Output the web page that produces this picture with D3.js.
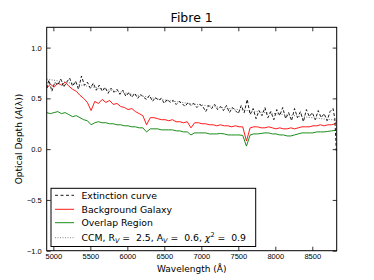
<!DOCTYPE html>
<meta charset="utf-8">
<style>
body { margin: 0; background: #fff; }
svg { font-family: "DejaVu Sans", sans-serif; }
.tick text { font-size: 7.5px; fill: #000; }
.tick line { stroke: #000; stroke-width: 0.8; }
.domain { display: none; }
</style>
<svg width="374" height="280"></svg>
<script src="https://d3js.org/d3.v7.min.js"></script>
<script>

// extinction curve (black dashed)
var waveExt = [4910,4940,4980,5020,5060,5100,5140,5180,5220,5260,5300,5340,5380,5420,5460,5500,5540,5580,5620,5660,
  5700,5740,5780,5820,5860,5900,5940,5980,6020,6060,6100,6140,6180,6220,6260,6300,6340,6380,6420,6460,
  6500,6540,6580,6620,6660,6700,6740,6780,6820,6860,6900,6940,6980,7020,7060,7100,7140,7180,7220,7260,
  7300,7340,7380,7420,7460,7500,7540,7580,7620,7660,7700,7740,7780,7820,7860,7900,7940,7980,8020,8060,
  8100,8140,8180,8220,8260,8300,8340,8380,8420,8460,8500,8540,8580,8620,8660,8700,8740,8780,8805,8825];
var extinction = [0.60,0.68,0.57,0.66,0.63,0.69,0.61,0.66,0.70,0.62,0.67,0.59,0.72,0.63,0.66,0.60,0.65,0.58,0.63,0.57,
  0.61,0.55,0.60,0.56,0.59,0.54,0.58,0.52,0.56,0.51,0.55,0.50,0.54,0.51,0.49,0.53,0.47,0.51,0.48,0.50,
  0.45,0.49,0.46,0.48,0.44,0.47,0.45,0.42,0.46,0.43,0.45,0.41,0.44,0.42,0.37,0.43,0.40,0.44,0.39,0.42,
  0.38,0.43,0.36,0.41,0.38,0.35,0.43,0.36,0.49,0.34,0.40,0.30,0.38,0.33,0.41,0.31,0.37,0.29,0.39,0.33,
  0.41,0.30,0.36,0.28,0.40,0.31,0.37,0.27,0.39,0.32,0.36,0.29,0.38,0.31,0.35,0.28,0.37,0.40,0.30,-0.02];

// background galaxy (red) and overlap region (green)
var waveSpec = [4910,4960,5010,5060,5110,5160,5210,5260,5310,5360,5410,5460,5510,5560,5610,5660,5710,5760,5810,5860,
  5910,5960,6010,6060,6110,6160,6210,6260,6310,6360,6410,6460,6510,6560,6610,6660,6710,6760,6810,6860,
  6910,6960,7010,7060,7110,7160,7210,7260,7310,7360,7410,7460,7510,7560,7610,7660,7710,7760,7810,7860,
  7910,7960,8010,8060,8110,8160,8210,8260,8310,8360,8410,8460,8510,8560,8610,8660,8710,8760,8810,8830];
var background = [0.60,0.64,0.61,0.65,0.63,0.66,0.62,0.59,0.57,0.53,0.50,0.46,0.38,0.47,0.45,0.49,0.46,0.48,0.44,0.45,
  0.42,0.41,0.39,0.40,0.37,0.35,0.33,0.24,0.31,0.31,0.30,0.29,0.29,0.28,0.29,0.27,0.27,0.26,0.27,0.21,
  0.26,0.26,0.25,0.25,0.24,0.24,0.23,0.24,0.23,0.23,0.22,0.23,0.22,0.22,0.08,0.21,0.22,0.22,0.21,0.21,
  0.22,0.21,0.20,0.21,0.20,0.20,0.21,0.20,0.21,0.22,0.22,0.22,0.23,0.23,0.24,0.23,0.24,0.24,0.25,0.28];
var overlap = [0.36,0.35,0.36,0.37,0.35,0.36,0.34,0.32,0.33,0.31,0.29,0.28,0.24,0.26,0.27,0.26,0.26,0.25,0.25,0.24,
  0.24,0.23,0.23,0.22,0.22,0.21,0.21,0.17,0.20,0.20,0.20,0.19,0.19,0.19,0.19,0.18,0.18,0.17,0.17,0.14,
  0.16,0.16,0.16,0.16,0.15,0.15,0.15,0.155,0.15,0.14,0.14,0.14,0.14,0.135,0.03,0.14,0.15,0.15,0.155,0.16,
  0.16,0.15,0.15,0.14,0.14,0.13,0.13,0.14,0.15,0.16,0.16,0.16,0.16,0.17,0.17,0.17,0.175,0.18,0.185,0.20];

// CCM fit (dotted)
var waveCCM = [4910,5200,5500,6000,6500,7000,7500,8000,8500,8830];
var ccm = [0.69,0.655,0.615,0.55,0.485,0.435,0.39,0.35,0.31,0.285];

var xTicks = [5000,5500,6000,6500,7000,7500,8000,8500];
var yTicks = [-1.0,-0.5,0.0,0.5,1.0];
var legendLabels = ["Extinction curve","Background Galaxy","Overlap Region"];

var svg = d3.select("svg");
var plotL = 46.7, plotR = 336.7, plotT = 27.3, plotB = 250.7;

var x = d3.scaleLinear().domain([4910, 8830]).range([plotL, plotR]);
var y = d3.scaleLinear().domain([-1.0, 1.2]).range([plotB, plotT]);

svg.append("clipPath").attr("id", "plot")
  .append("rect").attr("x", plotL).attr("y", plotT)
  .attr("width", plotR - plotL).attr("height", plotB - plotT);

var g = svg.append("g").attr("clip-path", "url(#plot)");

function series(wave, vals) {
  return wave.map(function(w, i) { return [w, vals[i]]; });
}
var line = d3.line().x(function(d) { return x(d[0]); }).y(function(d) { return y(d[1]); });

g.append("path").datum(series(waveCCM, ccm))
  .attr("d", line.curve(d3.curveMonotoneX)).attr("fill", "none")
  .attr("stroke", "#555").attr("stroke-width", 0.8).attr("stroke-dasharray", "1,1.5");
line.curve(d3.curveLinear);

g.append("path").datum(series(waveSpec, overlap))
  .attr("d", line).attr("fill", "none").attr("stroke", "#008000").attr("stroke-width", 0.9);
g.append("path").datum(series(waveSpec, background))
  .attr("d", line).attr("fill", "none").attr("stroke", "#ff0000").attr("stroke-width", 0.9);
g.append("path").datum(series(waveExt, extinction))
  .attr("d", line).attr("fill", "none").attr("stroke", "#000").attr("stroke-width", 0.9)
  .attr("stroke-dasharray", "3,2");

// axes with inward ticks on all four sides
svg.append("g").attr("transform", "translate(0," + plotB + ")")
  .call(d3.axisBottom(x).tickValues(xTicks).tickSize(-4).tickPadding(3).tickFormat(d3.format("d")));
svg.append("g").attr("transform", "translate(0," + plotT + ")")
  .call(d3.axisTop(x).tickValues(xTicks).tickSize(-4).tickFormat(""));
svg.append("g").attr("transform", "translate(" + plotL + ",0)")
  .call(d3.axisLeft(y).tickValues(yTicks).tickSize(-4).tickPadding(5)
    .tickFormat(function(d) { return d3.format(".1f")(d).replace("-", "\u2212"); }));
svg.append("g").attr("transform", "translate(" + plotR + ",0)")
  .call(d3.axisRight(y).tickValues(yTicks).tickSize(-4).tickFormat(""));

svg.append("rect").attr("x", plotL).attr("y", plotT)
  .attr("width", plotR - plotL).attr("height", plotB - plotT)
  .attr("fill", "none").attr("stroke", "#000").attr("stroke-width", 1);

svg.append("text").attr("x", (plotL + plotR) / 2).attr("y", 22)
  .attr("text-anchor", "middle").attr("font-size", 12.5).text("Fibre 1");

svg.append("text").attr("x", (plotL + plotR) / 2).attr("y", 271.5)
  .attr("text-anchor", "middle").attr("font-size", 9).text("Wavelength (\u00c5)");

var yl = svg.append("text").attr("transform", "translate(22," + ((plotT + plotB) / 2) + ") rotate(-90)")
  .attr("text-anchor", "middle").attr("font-size", 9);
yl.append("tspan").text("Optical Depth (");
yl.append("tspan").attr("font-style", "italic").text("A");
yl.append("tspan").text("(\u03bb))");

// legend
var lg = svg.append("g");
lg.append("rect").attr("x", 51).attr("y", 188.3).attr("width", 204.7).attr("height", 58.2)
  .attr("fill", "#fff").attr("stroke", "#000").attr("stroke-width", 1);
var rows = [195.3, 209.3, 222.7, 237.7];
var styles = [
  {stroke: "#000", dash: "3,2.5"},
  {stroke: "#ff0000", dash: null},
  {stroke: "#008000", dash: null},
  {stroke: "#555", dash: "1,1.5"}
];
rows.forEach(function(ry, i) {
  lg.append("line").attr("x1", 55).attr("x2", 74).attr("y1", ry).attr("y2", ry)
    .attr("stroke", styles[i].stroke).attr("stroke-width", i == 3 ? 0.7 : 0.9)
    .attr("stroke-dasharray", styles[i].dash);
});
legendLabels.forEach(function(t, i) {
  lg.append("text").attr("x", 81.5).attr("y", rows[i]).attr("dy", "0.35em")
    .attr("font-size", 9.3).text(t);
});
var ct = lg.append("text").attr("x", 81.5).attr("y", rows[3]).attr("dy", "0.35em")
  .attr("font-size", 9.3).attr("xml:space", "preserve");
ct.append("tspan").text("CCM, R");
ct.append("tspan").attr("font-style", "italic").attr("font-size", 6.5).attr("dy", "2").text("V");
ct.append("tspan").attr("dy", "-2").text(" =\u00a0 2.5, A");
ct.append("tspan").attr("font-style", "italic").attr("font-size", 6.5).attr("dy", "2").text("V");
ct.append("tspan").attr("dy", "-2").text(" =\u00a0 0.6, ");
ct.append("tspan").attr("font-style", "italic").text("\u03c7");
ct.append("tspan").attr("font-size", 6.5).attr("dy", "-3.5").text("2");
ct.append("tspan").attr("dy", "3.5").text(" =\u00a0 0.9");

</script>
